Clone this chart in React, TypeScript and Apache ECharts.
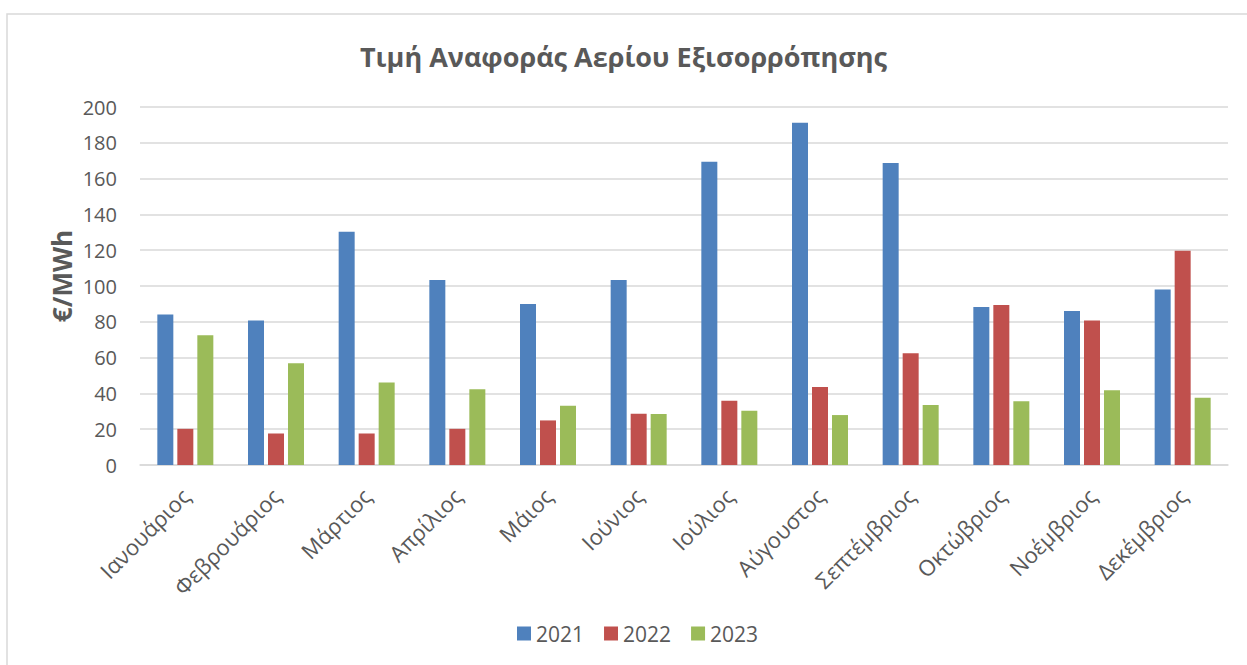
import React, { useEffect, useRef } from "react";
import * as echarts from "echarts";

const months = [
  "Ιανουάριος", "Φεβρουάριος", "Μάρτιος", "Απρίλιος", "Μάιος", "Ιούνιος",
  "Ιούλιος", "Αύγουστος", "Σεπτέμβριος", "Οκτώβριος", "Νοέμβριος", "Δεκέμβριος",
];
const v2021 = [84.1, 80.7, 130.3, 103.4, 90.0, 103.4, 169.4, 191.2, 168.7, 88.3, 86.0, 98.0];
const v2022 = [20.2, 17.6, 17.6, 20.2, 24.9, 28.7, 35.9, 43.6, 62.4, 89.4, 80.7, 119.7];
const v2023 = [72.5, 56.9, 46.1, 42.3, 33.1, 28.5, 30.3, 27.9, 33.5, 35.6, 41.7, 37.6];
const seriesNames = ["2021", "2022", "2023"];
const colors = ["#4F81BD", "#C0504D", "#9BBB59"];

const FONT = "'Open Sans', sans-serif";
const TXT = "#595959";

export default function App() {
  const ref = useRef<HTMLDivElement>(null);
  useEffect(() => {
    if (!ref.current) return;
    const chart = echarts.init(ref.current, null, { renderer: "svg" });
    const data = [v2021, v2022, v2023];
    chart.setOption({
      animation: false,
      backgroundColor: "#fff",
      textStyle: { fontFamily: FONT },
      title: {
        text: "Τιμή Αναφοράς Αερίου Εξισορρόπησης",
        left: "center",
        top: 38,
        textStyle: { fontFamily: FONT, fontSize: 27, fontWeight: "bold", color: TXT },
      },
      graphic: [
        {
          type: "rect",
          shape: { x: 7, y: 14, width: 1300, height: 700 },
          style: { fill: "none", stroke: "#D9D9D9", lineWidth: 1.5 },
          silent: true,
        },
        {
          type: "text",
          x: 62,
          y: 276,
          rotation: Math.PI / 2,
          style: {
            text: "€/MWh",
            fontFamily: FONT,
            fontSize: 26,
            fontWeight: "bold",
            fill: TXT,
            align: "center",
            verticalAlign: "middle",
          },
          silent: true,
        },
      ],
      legend: {
        data: seriesNames,
        bottom: 16,
        left: 512,
        itemWidth: 14,
        itemHeight: 14,
        itemGap: 20,
        icon: "rect",
        textStyle: { fontFamily: FONT, fontSize: 21, color: TXT },
      },
      grid: { left: 140, right: 19, top: 107, bottom: 200, containLabel: false },
      xAxis: {
        type: "category",
        data: months,
        axisLine: { lineStyle: { color: "#D9D9D9", width: 1.5 } },
        axisTick: { show: false },
        axisLabel: {
          rotate: 45,
          margin: 27,
          interval: 0,
          fontFamily: FONT,
          fontSize: 22,
          color: TXT,
        },
      },
      yAxis: {
        type: "value",
        min: 0,
        max: 200,
        interval: 20,
        axisLine: { show: false },
        axisTick: { show: false },
        axisLabel: { margin: 23, fontFamily: FONT, fontSize: 20, color: TXT },
        splitLine: { lineStyle: { color: "#D9D9D9", width: 1.5 } },
      },
      series: seriesNames.map((n, i) => ({
        name: n,
        type: "bar",
        data: data[i],
        barWidth: 16,
        barGap: "25%",
        itemStyle: { color: colors[i] },
      })),
    });
    return () => chart.dispose();
  }, []);
  return (
    <div
      ref={ref}
      style={{ position: "absolute", left: 0, top: 0, width: 1247, height: 665 }}
    />
  );
}
